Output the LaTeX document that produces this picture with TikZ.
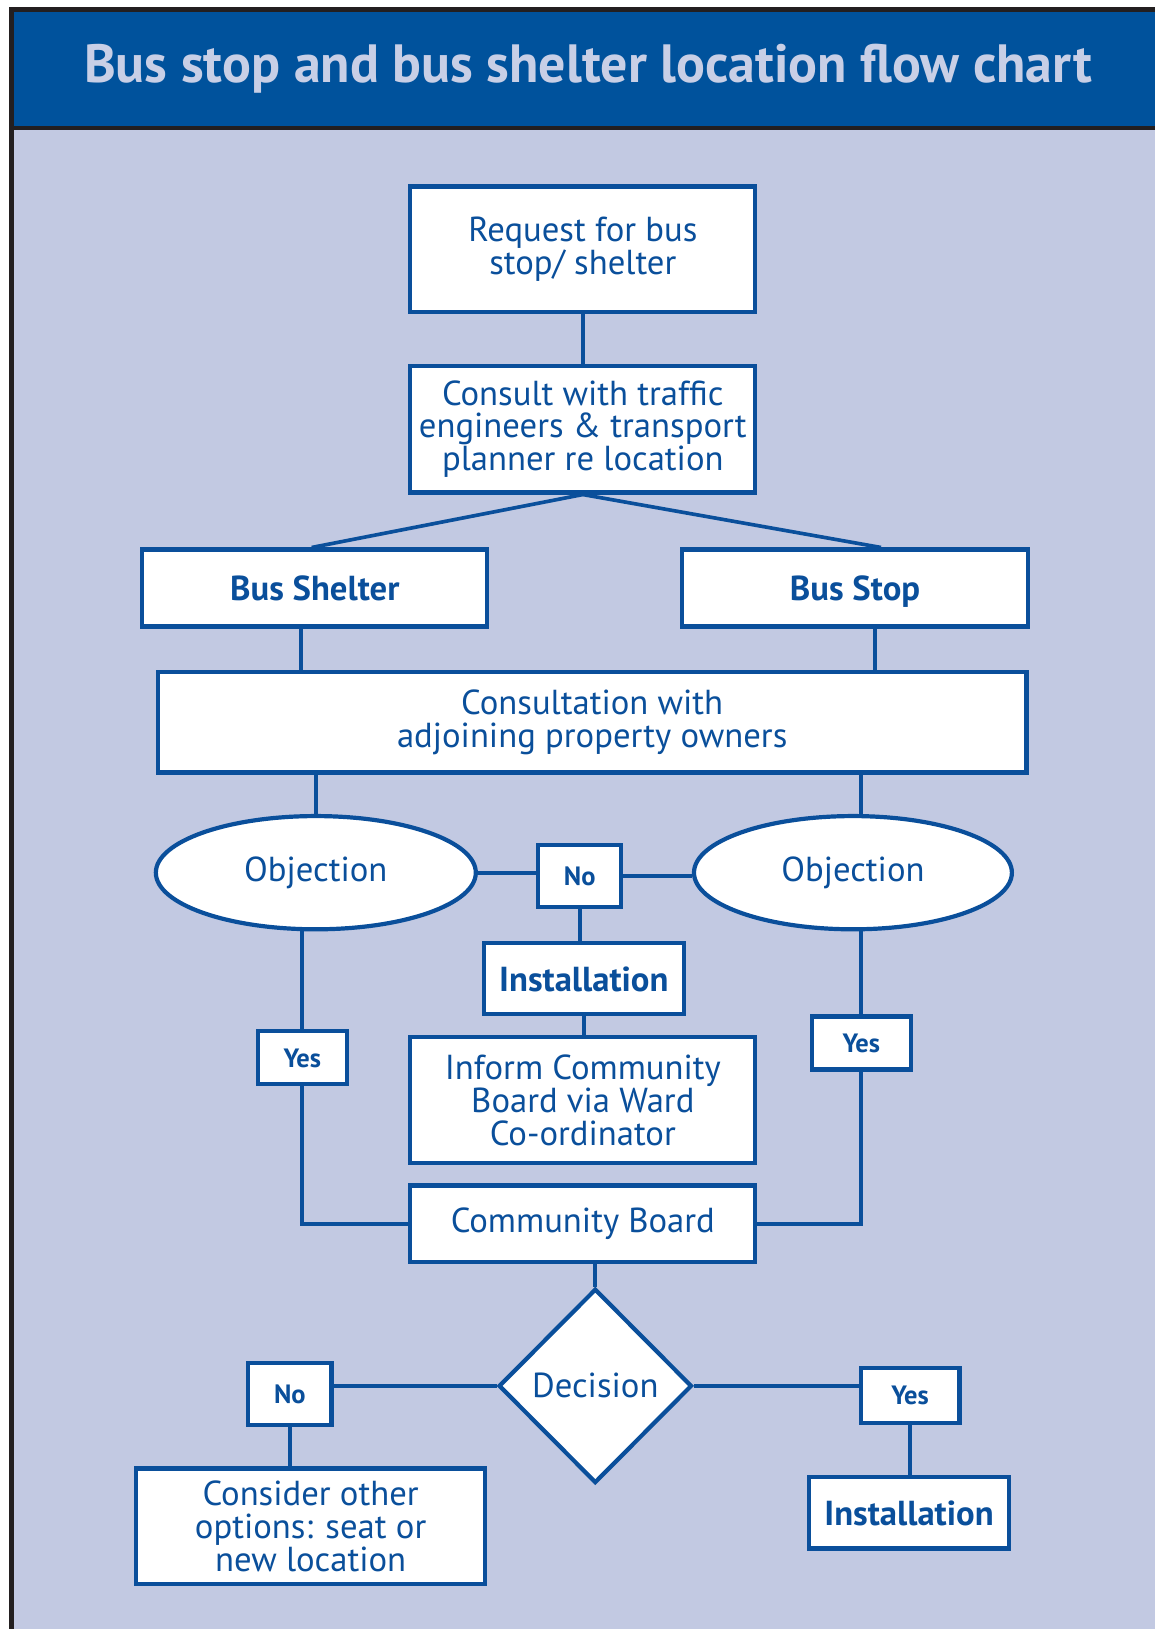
\documentclass[tikz,border=0pt]{standalone}
\usepackage{fontspec}
\setmainfont{PT Sans}
\usepackage{tikz}
\usetikzlibrary{arrows,positioning,calc,shapes.geometric}
\definecolor{bleu}{HTML}{0A4F9B}
\definecolor{bandeau}{HTML}{00529C}
\definecolor{lavande}{HTML}{C2C9E2}
\definecolor{titre}{HTML}{C8CFE6}
\definecolor{cadre}{HTML}{231F20}

\begin{document}
\begin{tikzpicture}[x=0.02cm,y=-0.02cm]
\tikzstyle{lien}=[draw=bleu,line width=2pt]
\tikzstyle{boite}=[draw=bleu,line width=2.3pt,fill=white,text=bleu,align=center,inner sep=0pt,font=\fontsize{19}{18}\selectfont]
\tikzstyle{boitegras}=[boite,font=\fontsize{19}{18}\selectfont\bfseries,text height=13.7pt,text depth=0pt]
\tikzstyle{reponse}=[boite,font=\fontsize{14.5}{14}\selectfont\bfseries,text height=10.4pt,text depth=0pt]
\tikzstyle{objection}=[boite,ellipse]
\tikzstyle{decision}=[boite,diamond]
\def\px{0.02cm}
% fond et bandeau
\useasboundingbox (0,0) rectangle (1112,1568);
\fill[white] (0,0) rectangle (1112,1568);
\fill[lavande] (11,9) rectangle (1112,1568);
\fill[bandeau] (11,9) rectangle (1112,123);
\draw[cadre,line width=3pt] (11,1568) -- (11,9) -- (1112,9);
\draw[cadre,line width=2.5pt] (11,123) -- (1112,123);
\node[text=titre,font=\fontsize{29.5}{29.5}\selectfont\bfseries] (Titre) at (566,66) {Bus stop and bus shelter location flow chart};
% noeuds
\node[boite,minimum width=332*\px,minimum height=121*\px] (Demande) at (561,240) {Request for bus\\stop/ shelter};
\node[boite,minimum width=332*\px,minimum height=122*\px] (Consult) at (561,413) {Consult with traffic\\engineers \& transport\\planner re location};
\node[boitegras,minimum width=332*\px,minimum height=74*\px] (Abri) at (303,566) {Bus Shelter};
\node[boitegras,minimum width=333*\px,minimum height=74*\px] (Arret) at (823,566) {Bus Stop};
\node[boite,minimum width=836*\px,minimum height=97*\px] (Proprio) at (570,695) {Consultation with\\adjoining property owners};
\node[objection,minimum width=308*\px,minimum height=109*\px] (ObjA) at (304,840) {Objection};
\node[objection,minimum width=306*\px,minimum height=109*\px] (ObjB) at (821,840) {Objection};
\node[reponse,minimum width=80*\px,minimum height=60*\px] (NonA) at (558,843) {No};
\node[boitegras,minimum width=192*\px,minimum height=68*\px] (InstA) at (562,942) {Installation};
\node[boite,minimum width=332*\px,minimum height=121*\px] (Informer) at (561,1059) {Inform Community\\Board via Ward\\Co-ordinator};
\node[reponse,minimum width=86*\px,minimum height=51*\px] (OuiA) at (291,1018) {Yes};
\node[reponse,minimum width=95*\px,minimum height=51*\px] (OuiB) at (829,1004) {Yes};
\node[boite,minimum width=332*\px,minimum height=74*\px] (Conseil) at (561,1178) {Community Board};
\node[decision,minimum width=186*\px,minimum height=187*\px] (Decision) at (573,1334) {Decision};
\node[reponse,minimum width=80*\px,minimum height=60*\px] (NonB) at (279,1342) {No};
\node[boite,minimum width=336*\px,minimum height=111*\px] (Autre) at (299,1469) {Consider other\\options: seat or\\new location};
\node[reponse,minimum width=95*\px,minimum height=53*\px] (OuiC) at (876,1343) {Yes};
\node[boitegras,minimum width=192*\px,minimum height=69*\px] (InstB) at (875,1456) {Installation};
% liens
\draw[lien] (Demande.south) -- (Consult.north);
\draw[lien] (Consult.south) -- (Abri.north -| 300,0);
\draw[lien] (Consult.south) -- (Arret.north -| 848,0);
\draw[lien] (Abri.south -| 290,0) -- (Proprio.north -| 290,0);
\draw[lien] (Arret.south -| 842,0) -- (Proprio.north -| 842,0);
\draw[lien] (Proprio.south -| ObjA.north) -- (ObjA.north);
\draw[lien] (Proprio.south -| 829,0) -- (ObjB.north -| 829,0);
\draw[lien] (ObjA.east) -- (ObjA.east -| NonA.west);
\draw[lien] (NonA.east) -- (NonA.east -| ObjB.west);
\draw[lien] (NonA.south) -- (NonA.south |- InstA.north);
\draw[lien] (InstA.south) -- (InstA.south |- Informer.north);
\draw[lien] (OuiA.north |- ObjA.south) -- (OuiA.north);
\draw[lien] (OuiA.south) |- (Conseil.west);
\draw[lien] (OuiB.north |- ObjB.south) -- (OuiB.north);
\draw[lien] (OuiB.south) |- (Conseil.east);
\draw[lien] (Conseil.south -| Decision.north) -- (Decision.north);
\draw[lien] (Decision.west) -- (Decision.west -| NonB.east);
\draw[lien] (NonB.south) -- (NonB.south |- Autre.north);
\draw[lien] (Decision.east) -- (Decision.east -| OuiC.west);
\draw[lien] (OuiC.south) -- (OuiC.south |- InstB.north);
\end{tikzpicture}
\end{document}
